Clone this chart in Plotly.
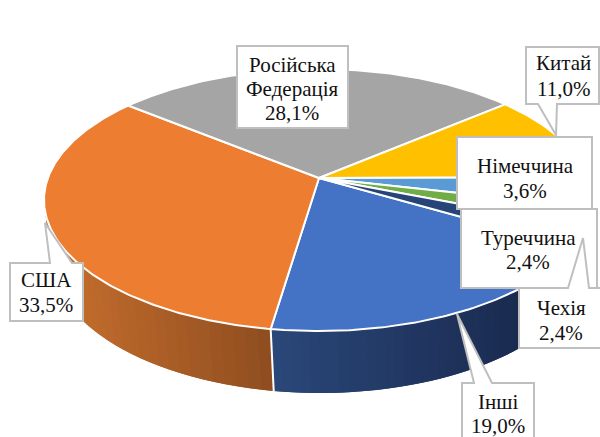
import math
import numpy as np
import plotly.graph_objects as go

# ---- data ----
categories = ["Інші", "США", "Російська Федерація", "Китай", "Німеччина", "Туреччина", "Чехія"]
values = [19.0, 33.5, 28.1, 11.0, 3.6, 2.4, 2.4]
colors = ["#4472C4", "#ED7D31", "#A5A5A5", "#FFC000", "#5B9BD5", "#70AD47", "#264478"]
START = 188.4

# ---- projection of the tilted pie ----
TOP = dict(cx=318, cy=200, rx=274, ry=131)
BOT = dict(cx=320, cy=258, rx=268, ry=135)
APEX = (319, 178)
A = (TOP["cy"] - APEX[1]) / TOP["ry"]


def rim(deg, e):
    t = np.radians(deg)
    u, v = np.sin(t), np.cos(t)
    d = 1 + A * v
    up = u * math.sqrt(1 - A * A) / d
    vp = (v + A) / d
    return e["cx"] + e["rx"] * up, e["cy"] - e["ry"] * vp


def mix(c1, c2, f):
    f = max(0, min(1, f))
    return "rgb(%d,%d,%d)" % tuple(round(a + (b - a) * f) for a, b in zip(c1, c2))


fig = go.Figure()


def poly(xs, ys, fill, line=None, width=0.0):
    fig.add_trace(go.Scatter(
        x=list(xs), y=list(ys), mode="lines", fill="toself", fillcolor=fill,
        line=dict(color=line or fill, width=width), hoverinfo="skip", showlegend=False))


total = sum(values)
first_start = START - values[0] / total * 360


def side(a0, a1, n, xl, xr, cl, cr):
    # strips overlap the next one so no seam shows between them
    th = np.linspace(a0, a1, n + 1)
    for i in range(n):
        end = th[min(i + 2, n)]
        seg = np.linspace(th[i], end, 5)
        x0, y0 = rim(seg, TOP)
        x1, y1 = rim(seg[::-1], BOT)
        xm = (float(rim(th[i], TOP)[0]) + float(rim(th[i], BOT)[0])) / 2
        poly(np.r_[x0, x1], np.r_[y0, y1], mix(cl, cr, (xm - xl) / (xr - xl)))


# side walls
side(first_start, START, 40, 272, 520, (42, 72, 122), (26, 43, 80))
side(START + 115, START, 50, 45, 272, (200, 112, 46), (141, 76, 31))

# white divider on the wall
tx, ty = rim(START, TOP)
bx, by = rim(START, BOT)
fig.add_trace(go.Scatter(x=[float(tx), float(bx)], y=[float(ty), float(by)], mode="lines",
                         line=dict(color="white", width=2), hoverinfo="skip", showlegend=False))

# top slices
angle = first_start
for val, col in zip(values, colors):
    a1 = angle + val / total * 360
    th = np.linspace(angle, a1, max(8, int(val * 6)))
    xs, ys = rim(th, TOP)
    poly(np.r_[APEX[0], xs, APEX[0]], np.r_[APEX[1], ys, APEX[1]], col, "white", 2)
    angle = a1

# ---- callouts ----
GREY = "#BFBFBF"
FONT = dict(family="Liberation Serif", size=21, color="#111111")
# lines of text, box, pointer tip, pointer side, pointer base, text x, text line ys
boxes = [
    (["Китай", "11,0%"], (526, 47, 599, 104), (556, 135), "b", (538, 557), 563, (63, 89)),
    (["Російська", "Федерація", "28,1%"], (237, 46, 348, 128), None, None, None, 292, (65, 89, 113)),
    (["Туреччина", "2,4%"], (461, 209, 597, 288), None, None, None, 528, (238, 262)),
    (["Німеччина", "3,6%"], (457, 137, 592, 209), None, None, None, 525, (166, 191)),
    (["Чехія", "2,4%"], (519, 288, 606, 348), (583, 238), "t", (568, 589), 561, (308, 333)),
    (["США", "33,5%"], (10, 263, 83, 321), (45, 223), "t", (50, 72), 46, (280, 305)),
    (["Інші", "19,0%"], (462, 383, 534, 445), (457, 314), "t", (474, 492), 498, (402, 426)),
]
shapes, annotations = [], []
for lines, (x0, y0, x1, y1), tip, where, base, tx_, tys in boxes:
    if tip is None:
        d = f"M{x0},{y0} L{x1},{y0} L{x1},{y1} L{x0},{y1} Z"
    elif where == "t":
        d = f"M{x0},{y0} L{base[0]},{y0} L{tip[0]},{tip[1]} L{base[1]},{y0} L{x1},{y0} L{x1},{y1} L{x0},{y1} Z"
    else:
        d = f"M{x0},{y0} L{x1},{y0} L{x1},{y1} L{base[1]},{y1} L{tip[0]},{tip[1]} L{base[0]},{y1} L{x0},{y1} Z"
    shapes.append(dict(type="path", path=d, xref="x", yref="y", fillcolor="white",
                       line=dict(color=GREY, width=2), layer="above"))
    for s, yy in zip(lines, tys):
        annotations.append(dict(x=tx_, y=yy, xref="x", yref="y", text=s, showarrow=False,
                                xanchor="center", yanchor="middle", font=FONT))

fig.update_layout(
    width=600, height=437, margin=dict(l=0, r=0, t=0, b=0),
    paper_bgcolor="white", plot_bgcolor="white", showlegend=False,
    xaxis=dict(range=[0, 600], visible=False, fixedrange=True),
    yaxis=dict(range=[437, 0], visible=False, fixedrange=True),
    shapes=shapes, annotations=annotations,
)
fig.write_html("out.html", config={"displayModeBar": False},
               post_script="document.body.style.margin='0';document.body.style.overflow='hidden';")
